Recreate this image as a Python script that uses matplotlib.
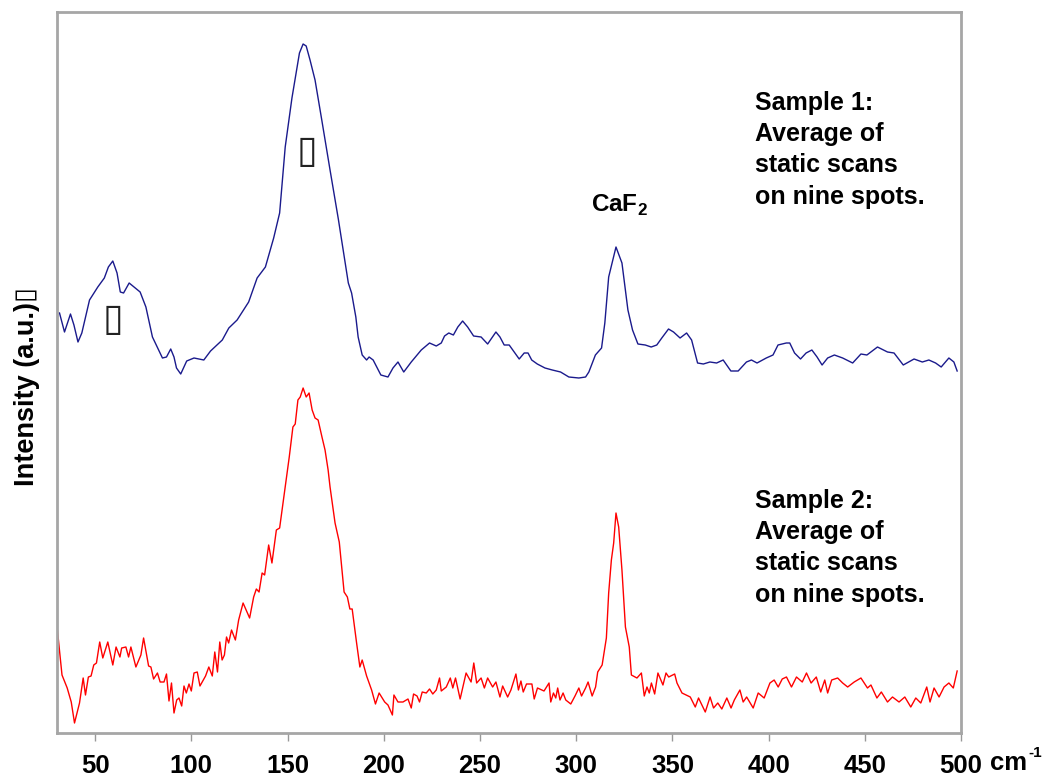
import matplotlib
matplotlib.use("Agg")
import matplotlib.pyplot as plt

plt.rcParams['font.family'] = ['Liberation Sans', 'DejaVu Sans']
plt.rcParams['mathtext.fontset'] = 'custom'
plt.rcParams['mathtext.rm'] = 'Liberation Sans'
plt.rcParams['mathtext.bf'] = 'Liberation Sans:bold'

# Sample 1 (blue, smoothed) - wavenumber (cm-1) / intensity (a.u.)
wn1 = [31.5, 34.1, 37.2, 39.0, 41.1, 43.1, 47.1, 51.4, 54.8, 56.9, 59.2, 61.4, 63.1, 64.8,
       67.7, 73.4, 76.4, 79.8, 85.0, 87.1, 89.3, 91.0, 92.3, 94.5, 97.6, 101.4, 106.5, 110.0,
       116.1, 119.5, 123.8, 129.8, 134.2, 138.5, 142.8, 145.9, 148.8, 152.3, 156.2, 158.1,
       159.7, 161.7, 164.3, 167.8, 172.1, 176.4, 178.1, 181.6, 183.3, 185.5, 186.7, 188.8,
       191.1, 192.4, 194.5, 198.5, 202.2, 204.8, 207.4, 210.4, 214.3, 219.5, 223.8, 227.3,
       229.9, 231.6, 233.8, 236.2, 238.5, 241.0, 243.6, 246.7, 250.6, 254.0, 258.3, 260.4,
       262.6, 265.2, 267.8, 270.4, 273.0, 275.0, 276.9, 279.8, 283.8, 287.6, 291.9, 296.2,
       301.4, 304.9, 306.6, 310.0, 313.2, 314.9, 316.9, 320.7, 323.8, 326.9, 329.3, 332.1,
       335.9, 339.0, 341.9, 344.5, 348.0, 350.6, 354.0, 357.4, 360.0, 363.1, 366.1, 369.5,
       373.0, 376.4, 380.4, 384.2, 388.5, 391.1, 394.0, 398.8, 402.3, 404.9, 409.2, 411.0,
       413.5, 416.6, 419.5, 422.5, 425.2, 427.8, 430.7, 434.2, 438.5, 443.7, 448.0, 451.1,
       456.6, 461.8, 465.2, 470.0, 475.6, 479.9, 483.3, 486.8, 489.7, 493.7, 496.3, 498.0]
int1 = [420, 401, 419, 408, 391, 400, 433, 446, 455, 466, 472, 460, 441, 440,
        450, 441, 426, 396, 375, 376, 384, 376, 365, 359, 372, 375, 373, 382,
        393, 405, 413, 431, 455, 466, 495, 520, 586, 635, 680, 689,
        687, 673, 653, 613, 563, 514, 493, 450, 440, 416, 396, 378,
        373, 376, 373, 358, 356, 365, 371, 361, 371, 383, 390, 387,
        390, 397, 400, 398, 406, 412, 406, 397, 396, 389, 401, 396,
        388, 388, 381, 374, 380, 380, 373, 369, 365, 363, 361, 356,
        355, 356, 361, 378, 385, 410, 456, 486, 470, 423, 403, 389,
        388, 386, 388, 395, 404, 401, 395, 400, 393, 370, 369, 371,
        370, 373, 362, 362, 371, 373, 370, 375, 378, 388, 390, 390,
        380, 374, 380, 383, 376, 368, 375, 378, 375, 370, 379, 378,
        386, 381, 380, 368, 374, 371, 373, 370, 366, 375, 371, 362]

# Sample 2 (red, raw)
wn2 = [30.3, 32.8, 35.5, 37.6, 39.3, 41.9, 43.8, 45.0, 46.5, 47.9, 49.3, 50.7, 52.4, 54.0,
       56.6, 59.2, 60.9, 62.9, 63.8, 66.0, 67.4, 68.6, 71.2, 73.8, 75.2, 77.8, 79.0, 80.4,
       82.4, 83.8, 85.8, 87.1, 88.4, 89.7, 91.0, 92.4, 93.6, 95.0, 96.2, 97.4, 98.8, 100.0,
       101.4, 103.1, 104.5, 107.4, 109.1, 110.9, 112.2, 113.6, 114.8, 116.0, 117.2, 118.3,
       119.4, 120.9, 122.9, 124.6, 126.9, 130.3, 132.4, 133.8, 135.2, 136.8, 138.1, 140.2,
       141.9, 144.2, 145.9, 148.8, 150.9, 152.8, 154.0, 155.4, 156.6, 158.1, 159.7, 161.2,
       162.8, 164.3, 165.9, 167.9, 169.5, 171.1, 172.1, 174.7, 176.9, 179.4, 181.1, 182.4,
       183.6, 185.9, 187.6, 188.8, 191.1, 193.7, 195.7, 197.6, 200.5, 202.2, 204.5, 205.3,
       207.4, 210.0, 212.6, 214.3, 215.5, 217.3, 218.6, 220.0, 222.1, 223.8, 225.5, 227.3,
       229.0, 229.9, 232.5, 234.6, 235.9, 237.3, 239.7, 242.8, 245.4, 246.8, 248.3, 250.6,
       252.3, 254.0, 256.6, 258.3, 260.4, 261.8, 264.4, 266.1, 268.7, 270.0, 271.3, 272.5,
       274.2, 277.0, 278.2, 279.9, 283.3, 285.9, 286.8, 288.2, 289.4, 290.4, 291.6, 293.2,
       294.6, 297.2, 299.4, 301.4, 302.8, 304.9, 306.2, 308.3, 310.1, 311.2, 313.5, 315.7,
       316.9, 318.3, 319.5, 320.7, 322.1, 323.8, 325.6, 327.6, 328.7, 331.6, 333.9, 335.4,
       336.8, 338.0, 339.1, 340.8, 342.5, 345.1, 346.7, 348.1, 351.2, 352.4, 355.0, 359.3,
       361.9, 363.6, 367.1, 369.6, 371.4, 373.6, 375.7, 378.3, 380.5, 382.2, 385.1, 386.8,
       388.6, 392.0, 394.6, 397.7, 400.7, 402.9, 405.0, 407.1, 409.3, 411.9, 414.5, 417.5,
       419.7, 422.1, 424.8, 427.1, 429.2, 430.7, 432.8, 435.9, 438.5, 441.1, 444.5, 448.0,
       451.4, 453.2, 456.3, 458.6, 461.8, 464.4, 467.8, 470.8, 473.9, 476.5, 479.1, 482.2,
       483.9, 486.0, 488.6, 491.2, 493.7, 496.0, 498.0]
int2 = [105, 58, 45, 31, 10, 30, 55, 38, 56, 57, 68, 70, 91, 75,
        91, 68, 86, 76, 85, 86, 76, 86, 66, 78, 95, 67, 66, 54,
        60, 51, 51, 59, 32, 50, 20, 33, 35, 27, 47, 40, 49, 42,
        60, 61, 47, 57, 66, 57, 81, 61, 91, 73, 78, 96,
        90, 103, 93, 113, 130, 115, 136, 144, 141, 160, 158, 188,
        170, 203, 205, 246, 276, 306, 309, 333, 336, 345, 336, 340,
        323, 315, 313, 296, 283, 263, 246, 210, 191, 141, 136, 124,
        124, 90, 66, 73, 57, 43, 29, 40, 31, 28, 18, 38,
        31, 31, 34, 25, 39, 37, 31, 41, 40, 44, 39, 43,
        55, 42, 46, 55, 45, 55, 34, 60, 51, 70, 50, 55,
        45, 55, 46, 51, 36, 47, 36, 43, 59, 43, 52, 41,
        49, 49, 34, 45, 42, 50, 31, 40, 35, 45, 33, 40,
        33, 29, 37, 45, 37, 45, 51, 37, 46, 61, 68, 95,
        140, 173, 190, 220, 206, 163, 106, 86, 58, 55, 60, 37,
        46, 40, 50, 39, 60, 48, 60, 56, 59, 50, 40, 36,
        26, 35, 21, 36, 25, 30, 24, 35, 25, 33, 43, 31,
        36, 25, 40, 35, 50, 53, 46, 54, 56, 46, 56, 51,
        60, 50, 56, 41, 53, 40, 53, 55, 50, 46, 51, 55,
        45, 48, 35, 41, 31, 36, 31, 36, 26, 35, 30, 46,
        31, 45, 36, 46, 50, 45, 62]

xticks = [50, 100, 150, 200, 250, 300, 350, 400, 450, 500]

fig = plt.figure(figsize=(10.48, 7.78), dpi=100)
ax = fig.add_axes([57 / 1048, 45 / 778, 904 / 1048, 721 / 778])

ax.plot(wn1, int1, color='#1a1a8c', lw=1.0)
ax.plot(wn2, int2, color='#ff0000', lw=1.0)

ax.set_xlim(30.2, 500)
ax.set_ylim(0, 721)
ax.set_yticks([])
ax.set_xticks(xticks)
ax.set_xticklabels([str(t) for t in xticks], fontsize=18.5, fontweight='bold')
ax.tick_params(axis='x', direction='out', length=6, width=1, color='#999999', pad=9)
for s in ax.spines.values():
    s.set_color('#a6a6a6')
    s.set_linewidth(2)

fig.text(990 / 1048, 1 - 763 / 778, 'cm', fontsize=18.5, fontweight='bold',
         ha='left', va='center')
fig.text(1028 / 1048, 1 - 753 / 778, '-1', fontsize=11, fontweight='bold',
         ha='left', va='center')

ax.set_ylabel('Intensity (a.u.)\u25af', fontsize=19.5, fontweight='bold')
ax.yaxis.set_label_coords(-17 / 904, (733 - 387) / 721)

note = 'Average of\nstatic scans\non nine spots.'
fig.text(755 / 1048, 1 - 91 / 778, 'Sample 1:\n' + note, fontsize=18, fontweight='bold',
         ha='left', va='top', linespacing=1.38)
fig.text(755 / 1048, 1 - 489 / 778, 'Sample 2:\n' + note, fontsize=18, fontweight='bold',
         ha='left', va='top', linespacing=1.38)
fig.text(591 / 1048, 1 - 205 / 778, r'CaF$_{\mathbf{2}}$', fontsize=17.5, fontweight='bold',
         ha='left', va='center')
fig.text(113 / 1048, 1 - 320 / 778, '\u25af', fontsize=27, ha='center', va='center',
         family=['DejaVu Sans'], color='#222222')
fig.text(307 / 1048, 1 - 152 / 778, '\u25af', fontsize=27, ha='center', va='center',
         family=['DejaVu Sans'], color='#222222')

fig.savefig('out.png', dpi=100)
